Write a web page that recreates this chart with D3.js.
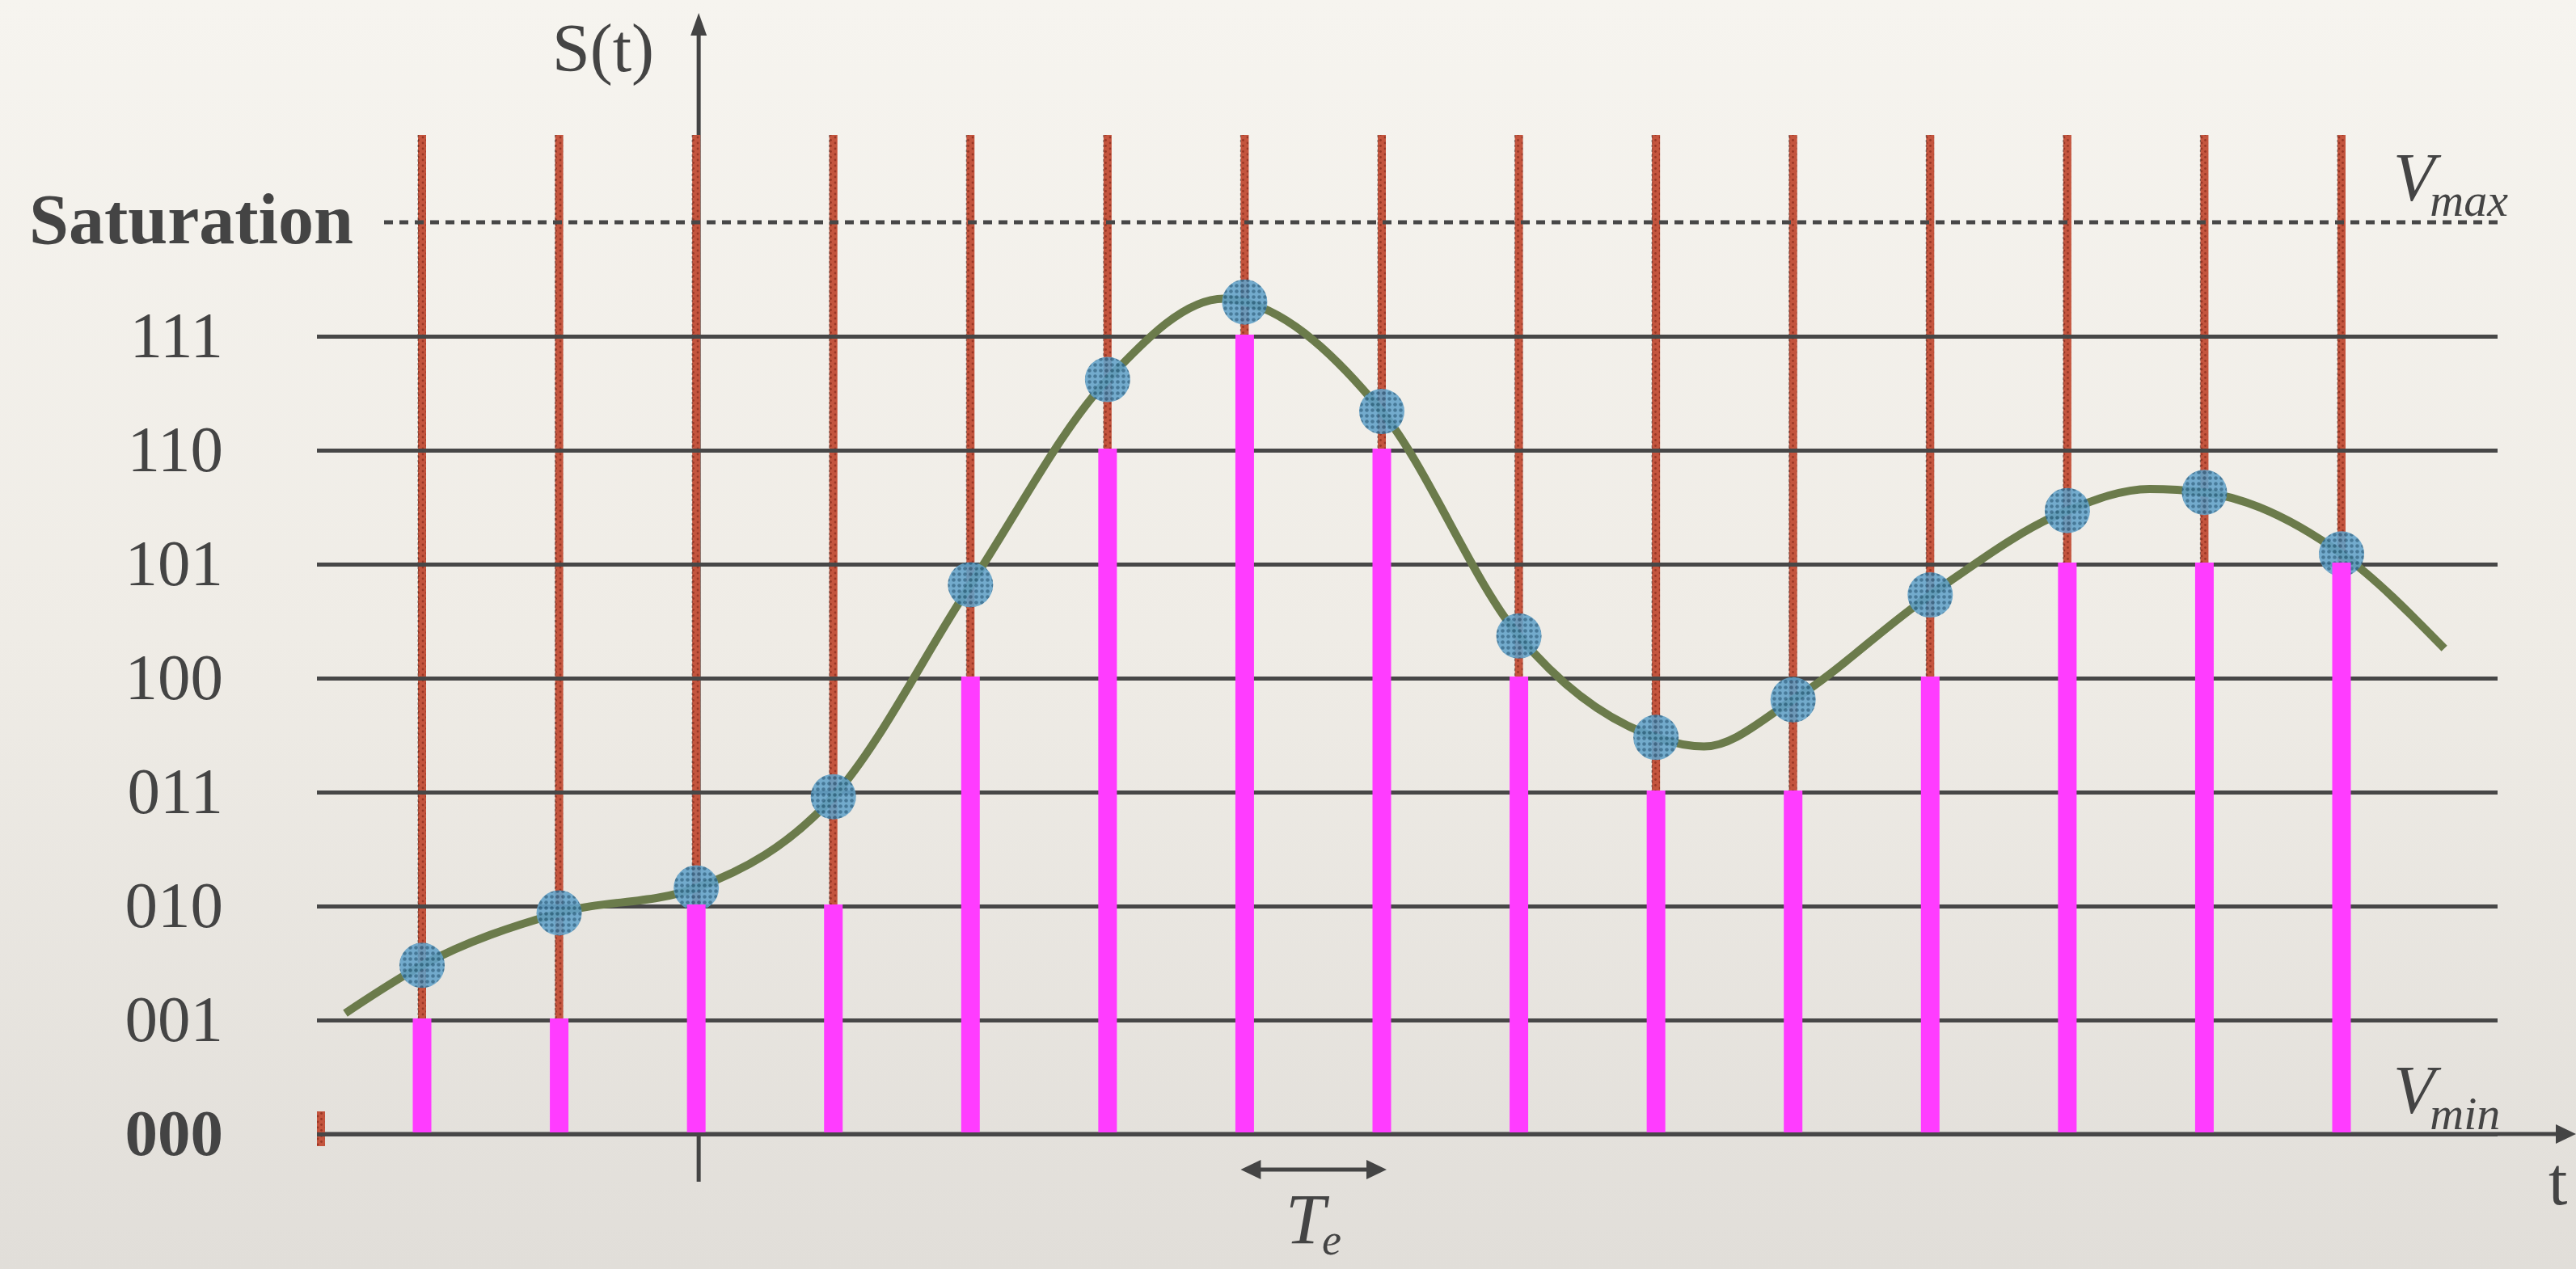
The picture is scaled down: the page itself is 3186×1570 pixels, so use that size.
<!DOCTYPE html>
<html>
<head>
<meta charset="utf-8">
<script src="https://cdn.jsdelivr.net/npm/d3@7"></script>
<style>
html, body { margin: 0; padding: 0; overflow: hidden; background: #eeebe5; }
svg { display: block; }
text { font-family: "Liberation Serif", "DejaVu Serif", serif; fill: #444; }
</style>
</head>
<body>
<svg id="gfx"></svg>
<script>
// sampling instants (in sample periods Te, t = 0 on the S axis)
var sampleTimes = [-2, -1, 0, 1, 2, 3, 4, 5, 6, 7, 8, 9, 10, 11, 12];
// analog value of S(t) at each sample, in quantum steps
var sampleValues = [1.48, 1.94, 2.16, 2.96, 4.82, 6.62, 7.30, 6.34, 4.37, 3.48, 3.81, 4.73, 5.47, 5.63, 5.09];
// quantized code kept for each sample
var quantCodes = [1, 1, 2, 2, 4, 6, 7, 6, 4, 3, 3, 4, 5, 5, 5];
// extra points of the analog signal between samples (ends, peaks, trough)
var curveTimes = [-2.56, 3.85, 7.35, 10.6, 12.75];
var curveValues = [1.06, 7.33, 3.40, 5.66, 4.26];
var levelLabels = ["000", "001", "010", "011", "100", "101", "110", "111"];

var chart = {};

function initialise() {
    chart = {
        width: 3186,
        height: 1570,
        gridLeft: 392,
        gridRight: 3089,
        sampleTop: 167
    };
    chart.x = d3.scaleLinear().domain([-2, 12]).range([522, 2896]);
    chart.y = d3.scaleLinear().domain([0, 8]).range([1403, 275]);

    chart.svg = d3.select("#gfx")
        .attr("width", chart.width)
        .attr("height", chart.height);

    makeDefs();
    drawBackground();
    drawAxes();
    drawSampleLines();
    drawGrid();
    drawSignal();
    drawBars();
    drawLabels();
}

function makeDefs() {
    var defs = chart.svg.append("defs");

    var bg = defs.append("linearGradient").attr("id", "paper")
        .attr("x1", 0).attr("y1", 0).attr("x2", 0).attr("y2", 1);
    bg.append("stop").attr("offset", "0%").attr("stop-color", "#f6f4ef");
    bg.append("stop").attr("offset", "50%").attr("stop-color", "#efece6");
    bg.append("stop").attr("offset", "100%").attr("stop-color", "#e1ded9");

    var red = defs.append("pattern").attr("id", "redDots")
        .attr("patternUnits", "userSpaceOnUse")
        .attr("width", 10).attr("height", 7);
    red.append("rect").attr("width", 10).attr("height", 7).attr("fill", "#c4553e");
    red.append("circle").attr("cx", 3).attr("cy", 2).attr("r", 1.4).attr("fill", "#8a2c1c").attr("opacity", 0.75);
    red.append("circle").attr("cx", 7.5).attr("cy", 5.5).attr("r", 1.4).attr("fill", "#8a2c1c").attr("opacity", 0.75);

    var blue = defs.append("pattern").attr("id", "blueDots")
        .attr("patternUnits", "userSpaceOnUse")
        .attr("width", 7).attr("height", 7);
    blue.append("rect").attr("width", 7).attr("height", 7).attr("fill", "#62a2c9");
    blue.append("circle").attr("cx", 3.5).attr("cy", 3.5).attr("r", 2.3).attr("fill", "#275f83").attr("opacity", 0.85);
}

function drawBackground() {
    chart.svg.append("rect")
        .attr("width", chart.width).attr("height", chart.height)
        .attr("fill", "url(#paper)");
}

function drawSampleLines() {
    var x = chart.x, y = chart.y;
    var samples = sampleTimes.map((t, i) => ({ t: t, v: sampleValues[i], q: quantCodes[i] }));

    var g = chart.svg.append("g").attr("class", "sample-lines");
    g.selectAll("rect.sline")
        .data(samples)
        .enter().append("rect").attr("class", "sline")
        .attr("x", d => x(d.t) - 5)
        .attr("y", chart.sampleTop)
        .attr("width", 10)
        .attr("height", d => y(d.q) - chart.sampleTop)
        .attr("fill", "url(#redDots)");

    g.selectAll("line.sedge")
        .data(samples)
        .enter().append("line").attr("class", "sedge")
        .attr("x1", d => x(d.t) - 5).attr("x2", d => x(d.t) - 5)
        .attr("y1", chart.sampleTop).attr("y2", d => y(d.q))
        .attr("stroke", "#3a2a26").attr("stroke-width", 1.2)
        .attr("stroke-dasharray", "3,3").attr("opacity", 0.5);

    // stub of the line left of the origin
    g.append("rect")
        .attr("x", chart.gridLeft).attr("y", y(0) - 28)
        .attr("width", 10).attr("height", 43)
        .attr("fill", "url(#redDots)");
}

function drawGrid() {
    var y = chart.y;
    var yAxis = d3.axisLeft(y)
        .tickValues(d3.range(levelLabels.length))
        .tickFormat(d => levelLabels[d])
        .tickSizeInner(-(chart.gridRight - chart.gridLeft))
        .tickSizeOuter(0)
        .tickPadding(116);

    var g = chart.svg.append("g").attr("class", "grid")
        .attr("transform", "translate(" + chart.gridLeft + ",0)")
        .call(yAxis);
    g.select(".domain").remove();
    g.selectAll(".tick line")
        .attr("stroke", "#474747").attr("stroke-width", 5);
    g.selectAll(".tick text")
        .attr("font-family", "Liberation Serif, DejaVu Serif, serif")
        .attr("font-size", 81)
        .attr("fill", "#444")
        .attr("font-weight", d => d === 0 ? "bold" : "normal");

    // saturation level
    chart.svg.append("line")
        .attr("x1", 475).attr("x2", chart.gridRight)
        .attr("y1", y(8)).attr("y2", y(8))
        .attr("stroke", "#474747").attr("stroke-width", 5)
        .attr("stroke-dasharray", "11,8");
}

function drawBars() {
    var x = chart.x, y = chart.y;
    chart.svg.append("g").attr("class", "bars")
        .selectAll("rect")
        .data(quantCodes)
        .enter().append("rect")
        .attr("x", (d, i) => x(sampleTimes[i]) - 11.5)
        .attr("y", d => y(d) - 2)
        .attr("width", 23)
        .attr("height", d => y(0) - y(d))
        .attr("fill", "#ff3cff");
}

function drawSignal() {
    var x = chart.x, y = chart.y;
    var pts = sampleTimes.map((t, i) => [t, sampleValues[i]])
        .concat(curveTimes.map((t, i) => [t, curveValues[i]]))
        .sort((a, b) => a[0] - b[0]);

    var line = d3.line()
        .x(d => x(d[0]))
        .y(d => y(d[1]))
        .curve(d3.curveMonotoneX);

    chart.svg.append("path")
        .attr("d", line(pts))
        .attr("fill", "none")
        .attr("stroke", "#6b7b4b")
        .attr("stroke-width", 10);

    chart.svg.append("g").attr("class", "samples")
        .selectAll("circle")
        .data(sampleValues)
        .enter().append("circle")
        .attr("cx", (d, i) => x(sampleTimes[i]))
        .attr("cy", d => y(d))
        .attr("r", 28)
        .attr("fill", "url(#blueDots)")
        .attr("opacity", 0.88);
}

function drawAxes() {
    var x = chart.x, y = chart.y;
    var g = chart.svg.append("g").attr("class", "axes");
    var col = "#444";
    var ax = x(0) + 3;

    // time axis
    g.append("line")
        .attr("x1", chart.gridLeft).attr("x2", 3166)
        .attr("y1", y(0)).attr("y2", y(0))
        .attr("stroke", col).attr("stroke-width", 5);
    g.append("path")
        .attr("d", "M3186," + y(0) + "L3161," + (y(0) - 12) + "L3161," + (y(0) + 12) + "Z")
        .attr("fill", col);

    // S(t) axis
    g.append("line")
        .attr("x1", ax).attr("x2", ax)
        .attr("y1", 1462).attr("y2", 40)
        .attr("stroke", col).attr("stroke-width", 5);
    g.append("path")
        .attr("d", "M" + ax + ",16L" + (ax - 10) + ",44L" + (ax + 10) + ",44Z")
        .attr("fill", col);

    // sampling period arrow
    var ay = 1447;
    var a0 = x(4) - 5, a1 = x(5) + 6;
    g.append("line")
        .attr("x1", a0 + 20).attr("x2", a1 - 20)
        .attr("y1", ay).attr("y2", ay)
        .attr("stroke", col).attr("stroke-width", 5);
    g.append("path")
        .attr("d", "M" + a0 + "," + ay + "L" + (a0 + 25) + "," + (ay - 12) + "L" + (a0 + 25) + "," + (ay + 12) + "Z" +
                   "M" + a1 + "," + ay + "L" + (a1 - 25) + "," + (ay - 12) + "L" + (a1 - 25) + "," + (ay + 12) + "Z")
        .attr("fill", col);
}

function drawLabels() {
    var svg = chart.svg, y = chart.y;

    svg.append("text")
        .attr("x", 437).attr("y", y(8)).attr("dy", "0.3em")
        .attr("text-anchor", "end")
        .attr("font-size", 88).attr("font-weight", "bold")
        .text("Saturation");

    svg.append("text")
        .attr("x", 683).attr("y", 88)
        .attr("font-size", 84)
        .text("S(t)");

    svg.append("text")
        .attr("x", 3152).attr("y", 1490)
        .attr("font-size", 84)
        .text("t");

    var vmax = svg.append("text")
        .attr("x", 2960).attr("y", 248)
        .attr("font-size", 84).attr("font-style", "italic");
    vmax.append("tspan").text("V");
    vmax.append("tspan").attr("dx", -6).attr("dy", 19).attr("font-size", 58).text("max");

    var vmin = svg.append("text")
        .attr("x", 2960).attr("y", 1377)
        .attr("font-size", 84).attr("font-style", "italic");
    vmin.append("tspan").text("V");
    vmin.append("tspan").attr("dx", -6).attr("dy", 20).attr("font-size", 58).text("min");

    var te = svg.append("text")
        .attr("x", 1590).attr("y", 1538)
        .attr("font-size", 88).attr("font-style", "italic");
    te.append("tspan").text("T");
    te.append("tspan").attr("dx", -4).attr("dy", 14).attr("font-size", 54).text("e");
}

initialise();
</script>
</body>
</html>
